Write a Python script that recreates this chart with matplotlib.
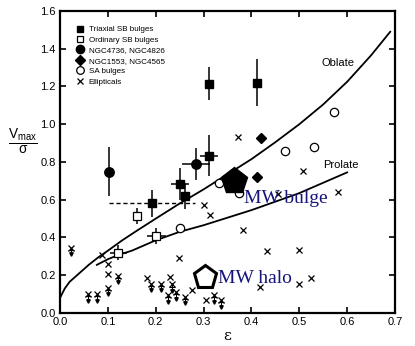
import matplotlib
matplotlib.use("Agg")
import matplotlib.pyplot as plt
from matplotlib.lines import Line2D

plt.rcParams['font.family'] = ['Liberation Sans', 'DejaVu Sans']
plt.rcParams['mathtext.fontset'] = 'custom'
plt.rcParams['mathtext.rm'] = 'Liberation Sans'
plt.rcParams['mathtext.it'] = 'Liberation Sans'

# ---- Model curves ----
oblate_eps = [0.0, 0.01, 0.02, 0.04, 0.06, 0.08, 0.10, 0.13, 0.16, 0.20, 0.25,
              0.30, 0.35, 0.40, 0.45, 0.50, 0.55, 0.60, 0.65, 0.69]
oblate_v = [0.08, 0.13, 0.165, 0.21, 0.255, 0.295, 0.33, 0.385, 0.435, 0.50, 0.58,
            0.655, 0.735, 0.815, 0.905, 1.0, 1.105, 1.225, 1.365, 1.49]
prolate_eps = [0.077, 0.10, 0.125, 0.15, 0.20, 0.25, 0.30, 0.35, 0.40, 0.45, 0.50, 0.55, 0.60]
prolate_v = [0.255, 0.285, 0.31, 0.33, 0.385, 0.43, 0.465, 0.505, 0.545, 0.59, 0.635, 0.69, 0.745]

# ---- Triaxial SB bulges ----
tri_eps = [0.312, 0.411, 0.312, 0.251, 0.261, 0.193]
tri_v = [1.214, 1.220, 0.833, 0.683, 0.621, 0.582]
tri_yerr = [0.088, 0.124, 0.108, 0.084, 0.07, 0.072]
tri_xerr = [0.0, 0.0, 0.0185, 0.019, 0.0, 0.0]
dashed_eps = [0.103, 0.282]
dashed_v = [0.585, 0.585]

# ---- Ordinary SB bulges ----
ord_eps = [0.160, 0.201, 0.122]
ord_v = [0.514, 0.408, 0.320]
ord_yerr = [0.044, 0.040, 0.040]
ord_xerr = [0.0, 0.0195, 0.017]

# ---- NGC4736, NGC4826 ----
ngc1_eps = [0.103, 0.284]
ngc1_v = [0.749, 0.789]
ngc1_yerr = [0.13, 0.084]
ngc1_xerr = [0.0, 0.029]

# ---- NGC1553, NGC4565 ----
ngc2_eps = [0.421, 0.412]
ngc2_v = [0.925, 0.722]

# ---- SA bulges ----
sa_eps = [0.573, 0.471, 0.531, 0.333, 0.373, 0.251]
sa_v = [1.067, 0.856, 0.877, 0.687, 0.634, 0.449]

# ---- Ellipticals ----
ell_eps = [0.371, 0.508, 0.580, 0.456, 0.301, 0.313, 0.382, 0.432, 0.499, 0.249,
           0.524, 0.499, 0.418, 0.087, 0.100, 0.101, 0.181, 0.230, 0.275, 0.306]
ell_v = [0.935, 0.752, 0.642, 0.632, 0.572, 0.519, 0.439, 0.330, 0.334, 0.289,
         0.187, 0.154, 0.140, 0.307, 0.262, 0.206, 0.185, 0.190, 0.122, 0.069]
# Ellipticals with upper-limit arrows
lim_eps = [0.024, 0.059, 0.078, 0.101, 0.121, 0.191, 0.211, 0.233, 0.226, 0.242,
           0.261, 0.322, 0.336]
lim_v = [0.345, 0.100, 0.100, 0.135, 0.197, 0.156, 0.156, 0.152, 0.095, 0.111,
         0.087, 0.095, 0.069]
lim_len = 0.035

# ---- Milky Way ----
mw_bulge = (0.364, 0.700)
mw_halo = (0.303, 0.193)

fig = plt.figure(figsize=(4.15, 3.46), dpi=100)
ax = fig.add_axes([0.1446, 0.0954, 0.8072, 0.8728])

ax.plot(oblate_eps, oblate_v, color='black', lw=1.3)
ax.plot(prolate_eps, prolate_v, color='black', lw=1.3)
ax.plot(dashed_eps, dashed_v, color='black', lw=1.0, ls=(0, (3, 2)))

eb_kw = dict(fmt='none', ecolor='black', elinewidth=1.1, capsize=0)
ax.errorbar(tri_eps, tri_v, yerr=tri_yerr, xerr=tri_xerr, **eb_kw)
ax.errorbar(ord_eps, ord_v, yerr=ord_yerr, xerr=ord_xerr, **eb_kw)
ax.errorbar(ngc1_eps, ngc1_v, yerr=ngc1_yerr, xerr=ngc1_xerr, **eb_kw)

ax.plot(tri_eps, tri_v, 's', color='black', ms=6.3, zorder=5)
ax.plot(ord_eps, ord_v, 's', mfc='white', mec='black', mew=0.9, ms=6, zorder=5)
ax.plot(ngc1_eps, ngc1_v, 'o', color='black', ms=6.8, zorder=5)
ax.plot(ngc2_eps, ngc2_v, 'D', color='black', ms=5.5, zorder=5)
ax.plot(sa_eps, sa_v, 'o', mfc='white', mec='black', mew=0.9, ms=6, zorder=5)
ax.plot(ell_eps, ell_v, 'x', color='black', ms=4.6, mew=0.9, zorder=5)

# upper-limit ellipticals: cross with a downward arrow
ax.plot(lim_eps, lim_v, 'x', color='black', ms=4.6, mew=0.9, zorder=5)
for e, v in zip(lim_eps, lim_v):
    ax.plot([e, e], [v, v - lim_len], color='black', lw=0.8, zorder=5)
    ax.plot([e], [v - 0.012], '_', color='black', ms=4, mew=0.8, zorder=5)
ax.plot(lim_eps, [v - lim_len for v in lim_v], 'v', color='black', ms=2.5, zorder=5)

# Milky Way points
ax.plot([mw_bulge[0]], [mw_bulge[1]], 'p', color='black', ms=20, zorder=6)
ax.plot([mw_halo[0]], [mw_halo[1]], 'p', mfc='white', mec='black', mew=2.2, ms=17, zorder=6)

navy = '#14147a'
ax.text(0.385, 0.581, 'MW bulge', color=navy, fontsize=14,
        family=['Liberation Serif', 'DejaVu Serif'], ha='left', va='baseline', zorder=7)
ax.text(0.331, 0.157, 'MW halo', color=navy, fontsize=14,
        family=['Liberation Serif', 'DejaVu Serif'], ha='left', va='baseline', zorder=7)
ax.text(0.547, 1.323, 'Oblate', fontsize=8, ha='left', va='center')
ax.text(0.549, 0.786, 'Prolate', fontsize=8, ha='left', va='center')

ax.set_xlim(0, 0.7)
ax.set_ylim(0, 1.6)
ax.set_xticks([0.0, 0.1, 0.2, 0.3, 0.4, 0.5, 0.6, 0.7])
ax.set_yticks([0.0, 0.2, 0.4, 0.6, 0.8, 1.0, 1.2, 1.4, 1.6])
ax.set_xticklabels(['0.0', '0.1', '0.2', '0.3', '0.4', '0.5', '0.6', '0.7'])
ax.set_yticklabels(['0.0', '0.2', '0.4', '0.6', '0.8', '1.0', '1.2', '1.4', '1.6'])
ax.tick_params(direction='in', length=4, width=1.2, top=True, right=True,
               labelsize=8, pad=3)
for s in ax.spines.values():
    s.set_linewidth(1.6)

ax.set_xlabel('ε', fontsize=11, family=['DejaVu Serif'], labelpad=1)
fig.text(0.055, 0.59, r'$\frac{\mathrm{V}_{\mathrm{max}}}{\sigma}$', fontsize=14,
         ha='center', va='center')

handles = [
    Line2D([], [], ls='none', marker='s', color='black', ms=5),
    Line2D([], [], ls='none', marker='s', mfc='white', mec='black', mew=0.9, ms=5),
    Line2D([], [], ls='none', marker='o', color='black', ms=6),
    Line2D([], [], ls='none', marker='D', color='black', ms=5),
    Line2D([], [], ls='none', marker='o', mfc='white', mec='black', mew=0.9, ms=5.5),
    Line2D([], [], ls='none', marker='x', color='black', mew=0.9, ms=5),
]
labels = ['Triaxial SB bulges', 'Ordinary SB bulges', 'NGC4736, NGC4826',
          'NGC1553, NGC4565', 'SA bulges', 'Ellipticals']
ax.legend(handles, labels, loc='upper left', bbox_to_anchor=(0.03, 0.97),
          frameon=False, fontsize=5.8, handlelength=1.0, handletextpad=0.6,
          labelspacing=0.35, borderpad=0.2)

fig.savefig('out.png', dpi=100)
